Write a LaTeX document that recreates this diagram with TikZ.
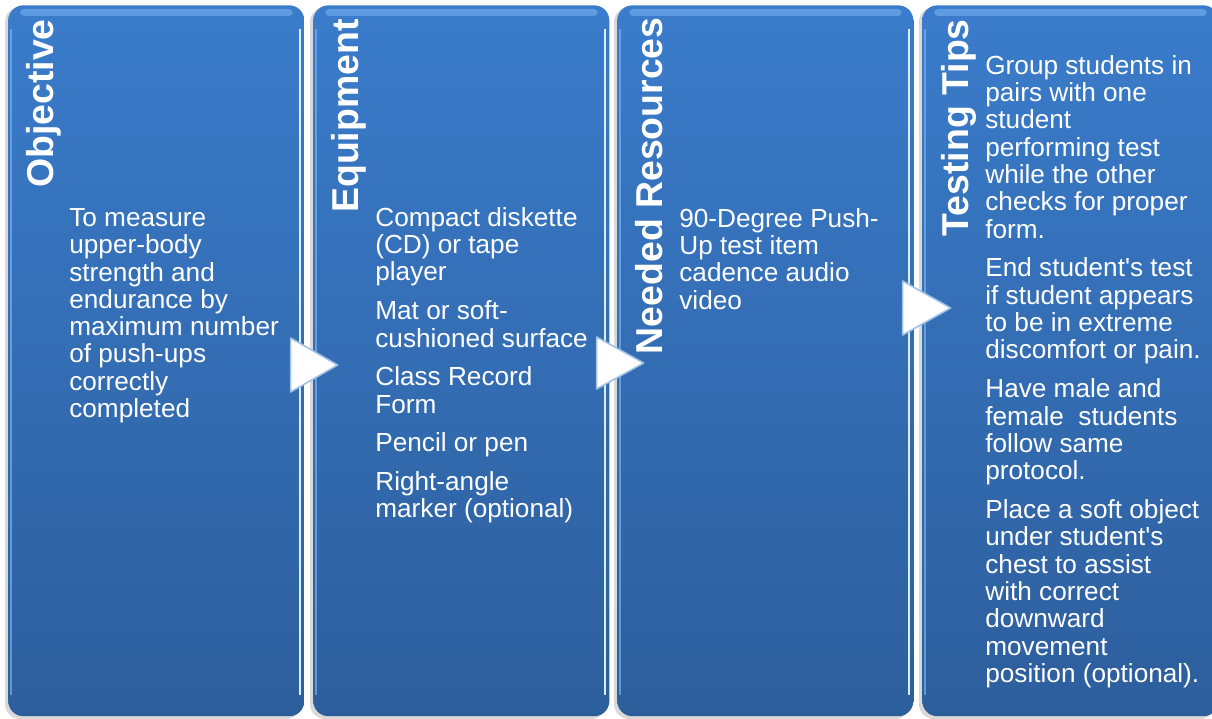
\documentclass[tikz,border=0pt]{standalone}
\usepackage{fontspec}
\setmainfont{Liberation Sans}
\usetikzlibrary{calc}

\definecolor{panelTop}{HTML}{3A7CCB}
\definecolor{panelBot}{HTML}{2D5E9C}
\definecolor{gloss}{HTML}{78B2EE}
\definecolor{rim}{HTML}{D6F0FF}
\definecolor{tipEdge}{HTML}{9FC1E6}

\begin{document}
\begin{tikzpicture}[x=0.02cm, y=-0.02cm,
	panel/.style={rectangle, rounded corners=0.3cm, minimum width=5.92cm, minimum height=14.22cm,
		anchor=north west, inner sep=0, top color=panelTop, bottom color=panelBot},
	heading/.style={rotate=90, anchor=base east, inner sep=0, text=white,
		font=\fontsize{21.3}{24}\selectfont\bfseries},
	body/.style={anchor=north west, align=left, inner sep=0, text=white,
		font=\fontsize{14.9}{15.55}\selectfont},
	pointer/.style={fill=white, draw=tipEdge, line width=0.9pt, line join=round}]

	\useasboundingbox (0,0) rectangle (1212,719);
	\clip (0,0) rectangle (1212,719);

	% soft shadows behind the panels
	\foreach \x in {8,313,617,922}
		\fill[black!15, rounded corners=0.3cm] (\x-3,7) rectangle (\x+293,719);

	\node[panel] (obj) at (8,5)   {};
	\node[panel] (equ) at (313,5) {};
	\node[panel] (res) at (617,5) {};
	\node[panel] (tip) at (922,5) {};

	% glossy rims
	\foreach \p in {obj,equ,res,tip} {
		\fill[gloss, opacity=0.6, rounded corners=0.08cm] ($(\p.north west)+(12,4)$) rectangle ($(\p.north east)+(-12,11)$);
		\draw[rim, line width=1.3pt] ($(\p.north east)+(-5,24)$) -- ($(\p.south east)+(-5,-22)$);
		\draw[gloss, opacity=0.7, line width=1pt] ($(\p.north west)+(3,24)$) -- ($(\p.south west)+(3,-22)$);
	}

	% headings
	\node[heading] (objT) at ($(obj.north west)+(45,14)$) {Objective};
	\node[heading] (equT) at ($(equ.north west)+(45,14)$) {Equipment};
	\node[heading] (resT) at ($(res.north west)+(45,12)$) {Needed Resources};
	\node[heading] (tipT) at ($(tip.north west)+(46,14)$) {Testing Tips};

	% panel texts
	\node[body] (objB) at ($(obj.north west)+(61,203)$)
		{To measure\\upper-body\\strength and\\endurance by\\maximum number\\of push-ups\\correctly\\completed};
	\node[body] (equB) at ($(equ.north west)+(62,202)$)
		{Compact diskette\\(CD) or tape\\player\\[6.5pt]
		 Mat or soft-\\cushioned surface\\[6.5pt]
		 Class Record\\Form\\[6.5pt]
		 Pencil or pen\\[6.5pt]
		 Right-angle\\marker (optional)};
	\node[body] (resB) at ($(res.north west)+(62,203)$)
		{90-Degree Push-\\Up test item\\cadence audio\\video};
	\node[body] (tipB) at ($(tip.north west)+(63,50)$)
		{Group students in\\pairs with one\\student\\performing test\\while the other\\checks for proper\\form.\\[6.5pt]
		 End student\textquotesingle s test\\if student appears\\to be in extreme\\discomfort or pain.\\[6.5pt]
		 Have male and\\female\ \ students\\follow same\\protocol.\\[6.5pt]
		 Place a soft object\\under student\textquotesingle s\\chest to assist\\with correct\\downward\\movement\\position (optional).};

	% pointers between the panels
	\draw[pointer] ($(obj.north east)+(-14,333)$) -- ++(47,27) -- ++(-47,27) -- cycle;
	\draw[pointer] ($(equ.north east)+(-13,332)$) -- ++(47,26) -- ++(-47,26) -- cycle;
	\draw[pointer] ($(res.north east)+(-11,276)$) -- ++(48,27) -- ++(-48,27) -- cycle;

\end{tikzpicture}
\end{document}
